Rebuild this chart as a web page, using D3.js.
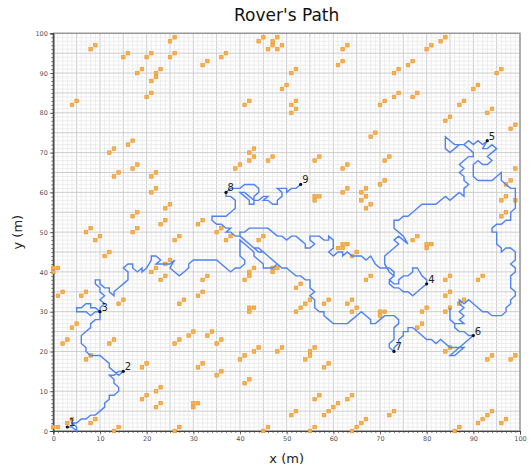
<!DOCTYPE html>
<html>
<head>
<meta charset="utf-8">
<script src="https://cdn.jsdelivr.net/npm/d3@7"></script>
<style>
  html, body { margin: 0; padding: 0; background: #fff; }
  svg { display: block; font-family: "DejaVu Sans", sans-serif; }
</style>
</head>
<body>
<svg id="chart" width="529" height="471"></svg>
<script>
// Rover route, one leg per pair of consecutive waypoints (x, y in metres)
const leg12 = [[3,1],[4,1],[5,0],[5,1],[4,2],[5,2],[6,3],[7,3],[8,4],[9,4],[10,5],[11,6],[11,7],[12,8],[12,9],[13,9],[14,10],[14,11],[13,12],[13,13],[12,14],[13,14],[14,15],[15,15]];
const leg23 = [[15,15],[14,14],[13,15],[12,16],[12,17],[11,18],[10,19],[9,19],[8,19],[7,20],[7,21],[6,22],[6,23],[6,24],[7,25],[8,26],[8,27],[9,28],[10,28],[10,29],[10,30]];
const leg34 = [[10,30],[9,31],[8,31],[8,32],[7,32],[6,31],[5,31],[5,30],[6,30],[7,30],[8,29],[9,30],[10,30],[10,31],[11,32],[10,33],[11,34],[10,35],[10,36],[9,37],[9,38],[10,38],[10,37],[11,36],[12,36],[12,35],[13,34],[13,35],[14,36],[15,37],[16,38],[16,39],[16,40],[15,41],[16,42],[17,42],[17,41],[18,40],[19,41],[19,40],[20,41],[21,43],[21,44],[22,44],[23,43],[22,42],[23,42],[24,42],[25,42],[26,43],[25,41],[26,40],[27,39],[28,40],[29,41],[29,42],[30,43],[31,43],[32,43],[33,43],[34,43],[35,43],[36,42],[37,41],[38,40],[39,41],[40,41],[41,42],[41,43],[40,44],[40,45],[40,46],[40,47],[40,48],[41,47],[42,46],[43,45],[43,44],[44,43],[45,42],[45,41],[46,41],[47,41],[48,42],[47,43],[46,44],[45,45],[44,45],[43,46],[42,47],[41,48],[40,49],[40,50],[41,50],[42,51],[43,51],[44,51],[45,51],[46,51],[47,50],[48,49],[49,49],[50,48],[51,49],[52,49],[53,48],[54,47],[54,46],[55,46],[56,47],[55,48],[55,49],[56,49],[57,49],[58,48],[59,48],[59,49],[60,48],[60,47],[60,46],[59,45],[60,44],[61,45],[62,45],[62,44],[63,45],[64,44],[65,44],[66,44],[67,43],[68,44],[69,42],[70,41],[71,41],[72,41],[73,40],[73,39],[72,38],[73,37],[74,37],[74,38],[75,39],[76,39],[77,40],[77,41],[78,41],[79,39],[80,38],[80,37]];
const leg45 = [[80,37],[79,36],[78,35],[77,34],[76,35],[75,35],[74,36],[73,36],[72,37],[72,38],[73,39],[72,40],[71,42],[71,43],[71,44],[72,45],[73,46],[74,47],[73,48],[74,49],[75,48],[76,47],[75,49],[74,50],[73,51],[73,52],[73,53],[74,53],[75,54],[76,54],[77,55],[78,56],[79,57],[80,57],[81,57],[82,57],[83,58],[84,59],[85,58],[86,59],[87,60],[88,59],[88,61],[89,62],[88,63],[88,64],[87,65],[88,66],[87,67],[88,68],[89,69],[90,69],[90,70],[89,71],[88,72],[87,72],[86,71],[85,70],[84,71],[84,72],[84,73],[84,74],[85,73],[86,72],[87,72],[88,72],[89,73],[90,72],[91,73],[92,72],[93,73]];
const leg56 = [[93,73],[92,71],[93,71],[94,72],[95,71],[94,70],[93,69],[94,68],[93,67],[92,67],[91,68],[90,67],[90,66],[90,65],[90,64],[91,63],[92,63],[93,63],[94,63],[95,64],[96,65],[96,64],[96,63],[97,62],[98,61],[99,61],[99,60],[99,59],[99,58],[99,57],[99,56],[98,55],[98,54],[98,53],[97,53],[96,52],[95,52],[94,51],[94,50],[95,50],[95,49],[95,48],[95,47],[96,46],[96,45],[97,46],[98,46],[99,45],[99,44],[99,43],[98,42],[99,41],[99,40],[98,39],[98,38],[98,37],[98,36],[99,35],[99,34],[98,33],[98,32],[97,31],[97,30],[96,29],[95,29],[94,29],[93,30],[92,30],[91,31],[90,32],[89,33],[88,32],[87,33],[87,32],[88,31],[87,30],[88,29],[87,28],[88,27],[87,27],[86,27],[85,28],[85,29],[85,30],[85,31],[85,30],[85,29],[85,28],[86,27],[86,26],[87,25],[88,25],[89,24],[90,24]];
const leg67 = [[90,24],[89,23],[88,22],[87,21],[86,20],[85,19],[86,19],[87,20],[88,21],[87,21],[86,21],[85,21],[84,22],[83,23],[82,22],[81,23],[80,23],[79,24],[78,25],[77,26],[76,26],[76,25],[75,25],[75,24],[74,23],[74,22],[73,21],[73,20]];
const leg78 = [[73,20],[72,21],[72,22],[73,23],[73,24],[73,25],[73,26],[74,27],[74,28],[73,29],[72,29],[71,29],[70,28],[69,27],[68,27],[68,28],[67,29],[66,30],[65,29],[64,28],[63,27],[62,27],[61,27],[60,27],[59,28],[58,29],[58,30],[57,30],[56,31],[56,32],[56,33],[55,34],[56,35],[55,36],[55,37],[55,38],[54,38],[53,39],[52,39],[51,40],[50,41],[49,41],[48,42],[47,43],[46,44],[45,45],[44,46],[43,46],[42,47],[41,48],[40,49],[39,49],[38,50],[37,50],[38,51],[37,51],[36,52],[35,52],[34,53],[34,54],[35,54],[36,54],[37,54],[38,55],[39,56],[39,57],[39,58],[38,59],[37,59],[37,60]];
const leg89 = [[37,60],[38,61],[39,61],[40,61],[41,62],[42,62],[43,62],[44,61],[44,60],[43,59],[43,58],[43,57],[42,57],[42,58],[41,59],[40,60],[41,60],[42,59],[43,58],[44,58],[45,59],[46,59],[45,58],[46,58],[47,57],[48,57],[48,58],[49,59],[49,60],[48,61],[49,61],[50,61],[50,60],[51,61],[52,61],[53,62]];

// Waypoints in visiting order
const waypointLabels = ["1","2","3","4","5","6","7","8","9"];
const waypointX = [3, 15, 10, 80, 93, 90, 73, 37, 53];
const waypointY = [1, 15, 30, 37, 73, 24, 20, 60, 62];

// Obstacle cells
const obstacles = [
  [8,96],[9,97],[15,94],[16,95],[20,94],[21,95],[18,90],[19,91],[22,90],[22,89],[23,91],[21,88],[20,84],[21,85],
  [25,98],[26,99],[25,94],[26,95],[32,92],[33,93],[36,94],[37,95],[44,98],[45,99],[46,96],[47,97],[47,98],[48,99],
  [48,96],[49,97],[49,86],[50,87],[4,82],[5,83],[41,82],[42,83],
  [62,96],[63,97],[61,92],[62,93],[51,90],[52,91],[51,82],[52,83],[52,81],[51,80],[80,96],[81,97],[83,98],[84,99],
  [73,90],[74,91],[76,92],[77,93],[70,82],[71,83],[73,84],[74,85],[77,84],[78,85],[90,86],[91,87],[95,90],[96,91],
  [87,82],[88,83],[93,80],[94,81],
  [84,78],[85,79],[98,76],[99,77],[68,74],[69,75],[56,68],[57,69],[62,66],[63,67],[71,68],[72,69],[99,66],[70,62],
  [71,63],[62,60],[63,61],[56,59],[57,59],[56,58],[66,60],[67,61],[66,58],[67,59],[67,56],[68,57],[97,62],[98,63],
  [97,59],[96,58],[99,58],[97,55],[96,54],
  [12,70],[13,71],[16,72],[17,73],[13,64],[14,65],[17,66],[18,67],[21,64],[22,65],[21,60],[22,61],[24,56],[25,57],
  [17,54],[18,55],[23,52],[24,53],[17,50],[18,51],[7,50],[8,51],[31,52],[32,53],[35,50],[36,51],[39,66],[40,67],
  [42,70],[43,71],[42,68],[43,69],[46,68],[47,69],
  [9,48],[10,49],[11,44],[12,45],[0,40],[0,41],[1,41],[1,34],[2,35],[6,34],[7,35],[4,26],[5,27],[2,22],[3,23],
  [12,22],[13,23],[7,18],[8,19],[14,32],[15,33],[21,40],[22,41],[23,38],[24,39],[24,42],[25,43],[26,48],[27,49],
  [32,38],[33,39],[31,34],[32,35],[27,32],[28,33],[26,22],[27,23],[29,24],[30,25],[33,24],[34,25],[35,22],[36,23],
  [35,14],[36,15],[31,16],[32,17],[19,16],[20,17],[19,8],[20,9],[22,10],[23,11],[22,6],[23,7],[30,7],[31,7],[30,6],
  [9,3],[8,2],[3,2],[4,3],[0,1],[1,1],[13,0],[14,1],[26,0],[27,1],[41,38],[42,39],[42,40],[43,41],[42,31],[42,30],
  [43,31],[44,48],[45,49],[47,41],[48,41],[47,40],[40,18],[41,19],[43,20],[44,21],[48,20],[49,21],[41,12],[42,13],
  [45,0],[46,1],[37,48],[38,49],
  [77,48],[78,49],[80,46],[80,47],[81,47],[61,46],[62,47],[63,47],[62,46],[64,44],[65,45],[67,38],[68,39],[52,36],
  [53,37],[55,33],[54,32],[52,30],[53,31],[58,32],[59,33],[63,32],[64,33],[64,30],[65,31],[70,30],[70,29],[71,30],
  [79,30],[80,31],[78,26],[79,27],[84,38],[85,39],[84,34],[85,35],[84,30],[85,31],[87,32],[88,33],[91,38],[92,39],
  [84,20],[85,21],[93,18],[94,19],[98,18],[99,19],[55,20],[55,19],[56,21],[54,18],[58,16],[59,17],[56,8],[57,9],
  [51,4],[52,5],[58,4],[59,5],[60,6],[61,7],[63,8],[64,9],[65,1],[66,2],[67,3],[64,0],[72,4],[73,5],[55,0],[56,1],
  [86,0],[87,1],[91,2],[92,3],[93,4],[94,5],[96,2],[97,3]
];

const axisTicks = [0, 10, 20, 30, 40, 50, 60, 70, 80, 90, 100];

// ---- layout ----
const svg = d3.select("#chart");
const plotLeft = 53.3, plotRight = 520, plotTop = 33.3, plotBottom = 431;
const x = d3.scaleLinear().domain([0, 100]).range([plotLeft, plotRight]);
const y = d3.scaleLinear().domain([0, 100]).range([plotBottom, plotTop]);

// grid: fine every metre, stronger every 5 m
const grid = svg.append("g");
const units = d3.range(0, 101);
grid.selectAll("line.gx").data(units).join("line").attr("class", "gx")
  .attr("x1", d => x(d)).attr("x2", d => x(d))
  .attr("y1", plotTop).attr("y2", plotBottom)
  .attr("stroke", d => d % 5 === 0 ? "#cdcdcd" : "#e9e9e9")
  .attr("stroke-width", d => d % 5 === 0 ? 1 : 0.8);
grid.selectAll("line.gy").data(units).join("line").attr("class", "gy")
  .attr("y1", d => y(d)).attr("y2", d => y(d))
  .attr("x1", plotLeft).attr("x2", plotRight)
  .attr("stroke", d => d % 5 === 0 ? "#cdcdcd" : "#e9e9e9")
  .attr("stroke-width", d => d % 5 === 0 ? 1 : 0.8);

// frame
svg.append("rect")
  .attr("x", plotLeft).attr("y", plotTop)
  .attr("width", plotRight - plotLeft).attr("height", plotBottom - plotTop)
  .attr("fill", "none").attr("stroke", "#9a9a9a").attr("stroke-width", 1.5);

// axes
const xAxis = d3.axisBottom(x).tickValues(axisTicks).tickSize(3.5).tickPadding(2).tickFormat(d3.format("d"));
const yAxis = d3.axisLeft(y).tickValues(axisTicks).tickSize(3.5).tickPadding(2).tickFormat(d3.format("d"));
const xMinor = d3.axisBottom(x).tickValues(units).tickSize(2).tickFormat("");
const yMinor = d3.axisLeft(y).tickValues(units).tickSize(2).tickFormat("");

function styleAxis(g) {
  g.select(".domain").attr("stroke", "#444").attr("stroke-width", 1);
  g.selectAll(".tick line").attr("stroke", "#444").attr("stroke-width", 0.7);
  g.selectAll(".tick text").attr("fill", "#555").attr("font-size", 6.5)
    .attr("font-family", "DejaVu Sans, sans-serif");
}
svg.append("g").attr("transform", `translate(0,${plotBottom})`).call(xMinor).call(styleAxis);
svg.append("g").attr("transform", `translate(${plotLeft},0)`).call(yMinor).call(styleAxis);
svg.append("g").attr("transform", `translate(0,${plotBottom})`).call(xAxis).call(styleAxis);
svg.append("g").attr("transform", `translate(${plotLeft},0)`).call(yAxis).call(styleAxis);

// obstacles
svg.append("g").selectAll("rect").data(obstacles).join("rect")
  .attr("x", d => x(d[0]) - 1.8).attr("y", d => y(d[1]) - 1.8)
  .attr("width", 3.6).attr("height", 3.6)
  .attr("fill", "#f7b04e").attr("stroke", "#ea9426").attr("stroke-width", 0.6);

// route
const route = [leg12, leg23, leg34, leg45, leg56, leg67, leg78, leg89]
  .reduce((acc, leg, i) => acc.concat(i === 0 ? leg : leg.slice(1)), []);
const line = d3.line().x(d => x(d[0])).y(d => y(d[1]));
svg.append("path").datum(route)
  .attr("d", line)
  .attr("fill", "none").attr("stroke", "#4f82f2")
  .attr("stroke-width", 1.4).attr("stroke-linejoin", "miter");

// waypoints
const wp = svg.append("g");
waypointLabels.forEach((lab, i) => {
  wp.append("circle").attr("cx", x(waypointX[i])).attr("cy", y(waypointY[i]))
    .attr("r", 1.6).attr("fill", "#111");
  wp.append("text").attr("x", x(waypointX[i]) + 1.5).attr("y", y(waypointY[i]) - 1)
    .attr("font-size", 10).attr("fill", "#222").text(lab);
});

// titles
svg.append("text").attr("x", (plotLeft + plotRight) / 2).attr("y", 21)
  .attr("text-anchor", "middle").attr("font-size", 17).attr("fill", "#111")
  .text("Rover's Path");
svg.append("text").attr("x", (plotLeft + plotRight) / 2).attr("y", 463)
  .attr("text-anchor", "middle").attr("font-size", 13).attr("fill", "#222")
  .text("x (m)");
svg.append("text")
  .attr("transform", `translate(22,${(plotTop + plotBottom) / 2}) rotate(-90)`)
  .attr("text-anchor", "middle").attr("font-size", 13).attr("fill", "#222")
  .text("y (m)");
</script>
</body>
</html>
